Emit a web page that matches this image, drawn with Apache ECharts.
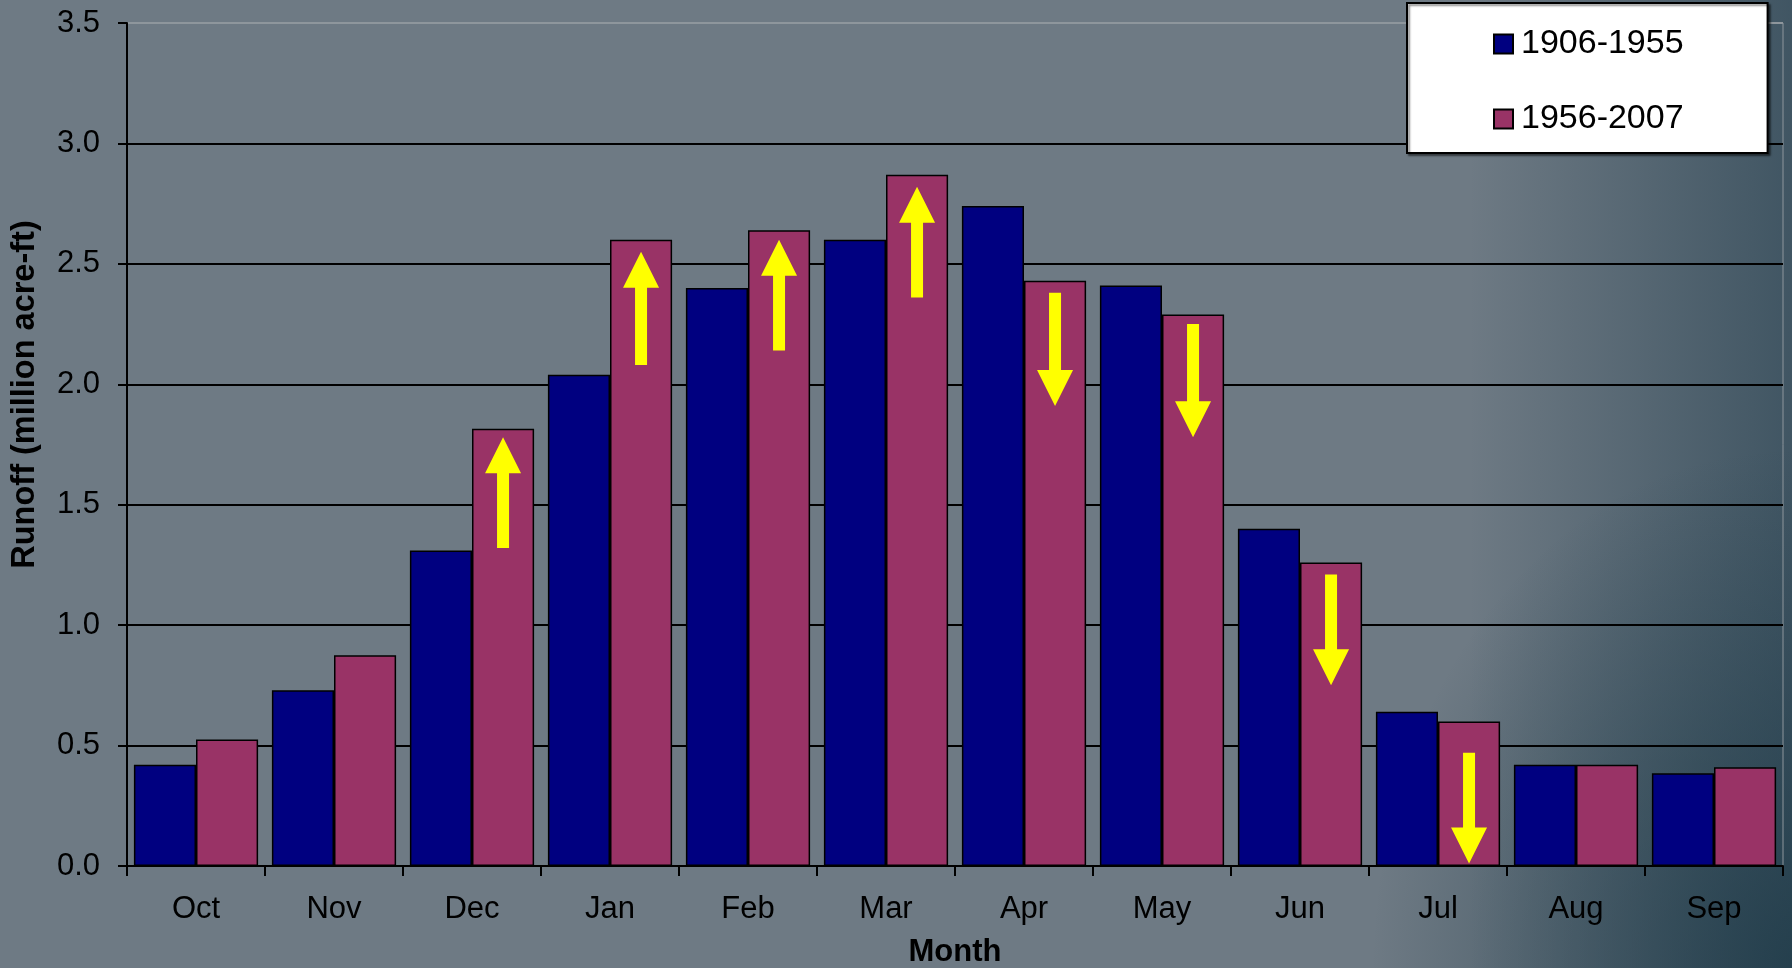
<!DOCTYPE html>
<html>
<head>
<meta charset="utf-8">
<script src="https://cdn.jsdelivr.net/npm/echarts@6/dist/echarts.min.js"></script>
<style>
  html, body { margin: 0; padding: 0; }
  #chart {
    width: 1792px; height: 968px;
    background-color: #6e7a84;
    background-image:
      radial-gradient(ellipse 420px 520px at 100% 100%, rgba(30,58,72,0.8) 0%, rgba(30,58,72,0) 100%),
      linear-gradient(to right, rgba(45,70,85,0) 0%, rgba(45,70,85,0) 82%, rgba(45,70,85,0.7) 100%);
  }
</style>
</head>
<body>
<div id="chart"></div>
<script>
// ---- data ----
const months = ['Oct', 'Nov', 'Dec', 'Jan', 'Feb', 'Mar', 'Apr', 'May', 'Jun', 'Jul', 'Aug', 'Sep'];
const seriesNames = ['1906-1955', '1956-2007'];
const runoff1906_1955 = [0.42, 0.73, 1.31, 2.04, 2.40, 2.60, 2.74, 2.41, 1.40, 0.64, 0.42, 0.385];
const runoff1956_2007 = [0.525, 0.875, 1.815, 2.60, 2.64, 2.87, 2.43, 2.29, 1.26, 0.60, 0.42, 0.41];
// change arrows: [month index, arrow start value, arrow tip value]
const arrowMonths = [2, 3, 4, 5, 6, 7, 8, 9];
const arrowStart  = [1.32, 2.08, 2.14, 2.36, 2.38, 2.25, 1.21, 0.47];
const arrowTip    = [1.78, 2.55, 2.60, 2.82, 1.91, 1.78, 0.75, 0.01];
const yTicks = { min: 0, max: 3.5, interval: 0.5 };

const arrowData = arrowMonths.map((m, i) => [m, arrowStart[i], arrowTip[i]]);
const FONT = "'Liberation Sans', Arial, sans-serif";

const chart = echarts.init(document.getElementById('chart'), null, { renderer: 'canvas' });

function renderArrow(params, api) {
  const idx = api.value(0);
  const s = api.coord([idx, api.value(1)]);
  const t = api.coord([idx, api.value(2)]);
  const bandW = api.size([1, 0])[0];
  const x = s[0] + bandW * 0.225;
  const y0 = s[1], y1 = t[1];
  const dir = y1 < y0 ? -1 : 1; // -1: up
  const shaftHalf = 6, headHalf = 18, headLen = 36;
  const yb = y1 - dir * headLen;
  const pts = [
    [x - shaftHalf, y0], [x - shaftHalf, yb], [x - headHalf, yb],
    [x, y1], [x + headHalf, yb], [x + shaftHalf, yb], [x + shaftHalf, y0]
  ];
  return { type: 'polygon', shape: { points: pts }, style: { fill: '#ffff00', stroke: null } };
}

const option = {
  backgroundColor: 'transparent',
  animation: false,
  textStyle: { fontFamily: FONT },
  grid: {
    left: 127, right: 9, top: 23, bottom: 102,
    outerBoundsMode: 'none', containLabel: false,
    show: true, borderColor: '#8e969c', borderWidth: 1, backgroundColor: 'transparent'
  },
  legend: {
    data: seriesNames,
    orient: 'vertical',
    icon: 'rect',
    left: 1407, top: 3,
    backgroundColor: '#ffffff',
    borderColor: '#000000', borderWidth: 2,
    padding: [24, 84, 17, 86],
    itemGap: 41,
    itemWidth: 19, itemHeight: 19,
    shadowColor: 'rgba(0,0,0,0.45)', shadowOffsetX: 2, shadowOffsetY: 2, shadowBlur: 2,
    textStyle: { fontSize: 34, lineHeight: 34, color: '#000', fontFamily: FONT, padding: [0, 0, 0, 3] }
  },
  xAxis: {
    type: 'category',
    data: months,
    name: 'Month',
    nameLocation: 'middle',
    nameGap: 71,
    nameTextStyle: { fontSize: 31, fontWeight: 'bold', color: '#000', fontFamily: FONT },
    axisLine: { lineStyle: { color: '#000', width: 2 } },
    axisTick: { show: true, length: 10, lineStyle: { color: '#000', width: 2 } },
    axisLabel: { fontSize: 31, color: '#000', margin: 28, fontFamily: FONT },
    splitLine: { show: false }
  },
  yAxis: {
    type: 'value',
    min: yTicks.min, max: yTicks.max, interval: yTicks.interval,
    name: 'Runoff (million acre-ft)',
    nameLocation: 'middle',
    nameGap: 85,
    nameRotate: 90,
    nameTextStyle: { fontSize: 32.5, fontWeight: 'bold', color: '#000', fontFamily: FONT, padding: [0, 0, 0, 100] },
    axisLine: { show: true, lineStyle: { color: '#000', width: 2 } },
    axisTick: { show: true, length: 9, lineStyle: { color: '#000', width: 2 } },
    axisLabel: { fontSize: 31, color: '#000', margin: 27, fontFamily: FONT, formatter: v => v.toFixed(1) },
    splitLine: { show: true, lineStyle: { color: ['#000', '#000', '#000', '#000', '#000', '#000', '#000', '#8e969c'], width: 2 } }
  },
  series: [
    {
      name: seriesNames[0], type: 'bar', data: runoff1906_1955,
      barGap: '0%', barCategoryGap: '10%',
      itemStyle: { color: '#000080', borderColor: '#000', borderWidth: 1.5 }
    },
    {
      name: seriesNames[1], type: 'bar', data: runoff1956_2007,
      barGap: '0%', barCategoryGap: '10%',
      itemStyle: { color: '#993366', borderColor: '#000', borderWidth: 1.5 }
    },
    {
      name: 'change', type: 'custom', data: arrowData,
      renderItem: renderArrow, z: 10, silent: true,
      encode: { x: 0, y: [1, 2] }
    }
  ]
};
chart.setOption(option);
</script>
</body>
</html>
